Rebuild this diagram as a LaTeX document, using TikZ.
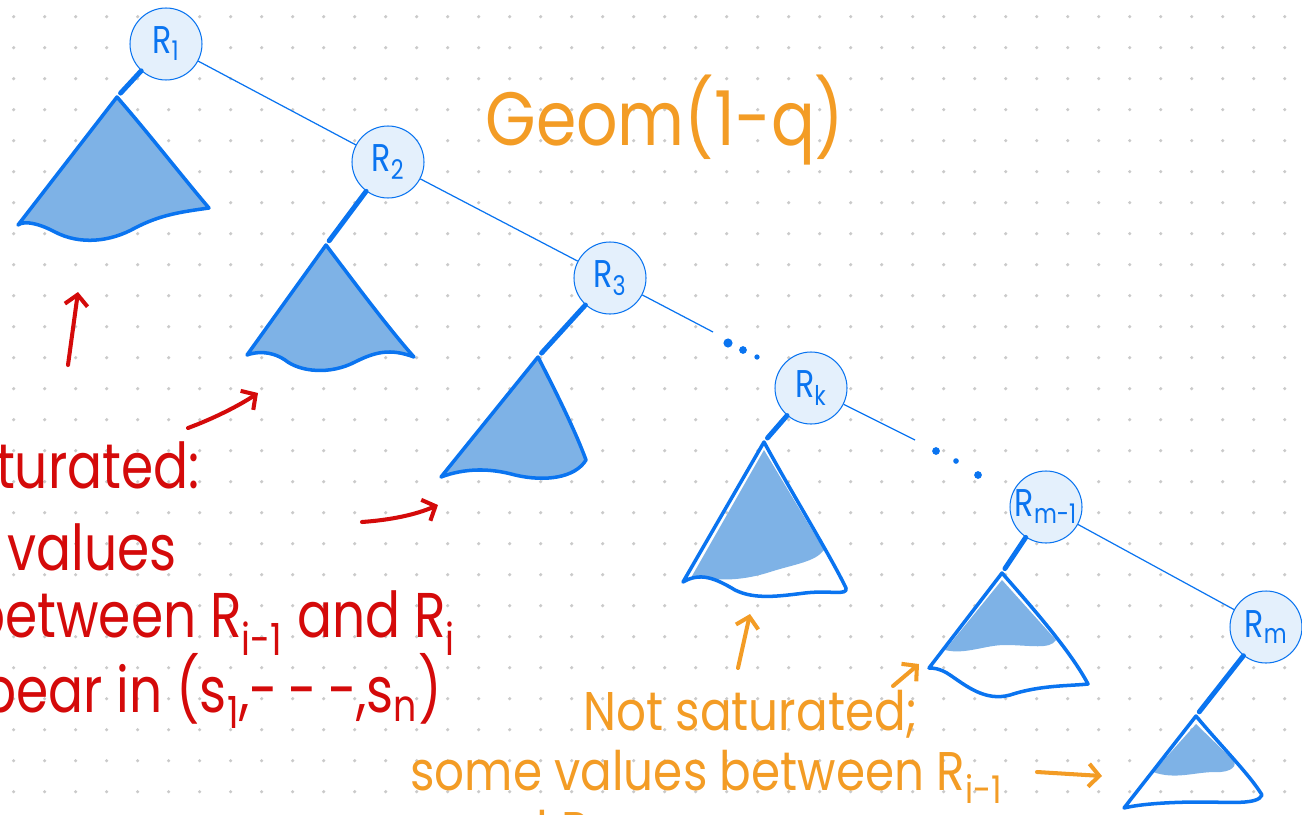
\documentclass[tikz,border=0pt]{standalone}
\usepackage{fontspec}
\setmainfont{Poppins}
\newfontfamily\handfont[FakeStretch=0.82]{Poppins}
\newfontfamily\widehand[FakeStretch=0.86]{Poppins}
\usetikzlibrary{arrows.meta}
\definecolor{penblue}{HTML}{0A74F0}
\definecolor{nodefill}{HTML}{E4F0FC}
\definecolor{treefill}{HTML}{7EB2E6}
\definecolor{penred}{HTML}{D40A0A}
\definecolor{penorange}{HTML}{F39C25}
\definecolor{griddot}{HTML}{CACACA}

\begin{document}
\begin{tikzpicture}[x=0.02cm, y=-0.02cm,
    rnode/.style={draw=penblue, fill=nodefill, circle, line width=0.6pt,
      minimum size=1.44cm, inner sep=0pt, text=penblue,
      font=\handfont\fontsize{22}{24}\selectfont},
    spine/.style={draw=penblue, line width=0.7pt},
    stem/.style={draw=penblue, line width=2.8pt, line cap=round, shorten >=3pt},
    subtree/.style={draw=penblue, line width=2pt, line join=round},
    redpen/.style={draw=penred, line width=2.3pt, line cap=round,
      -{Straight Barb[length=6pt, width=13pt, line width=2.3pt]}},
    orangepen/.style={draw=penorange, line width=2.3pt, line cap=round,
      -{Straight Barb[length=6pt, width=13pt, line width=2.3pt]}},
    redtext/.style={text=penred, anchor=base east, inner sep=0pt,
      font=\handfont\fontsize{36}{40}\selectfont},
    orangetext/.style={text=penorange, anchor=base west, inner sep=0pt,
      font=\widehand\fontsize{31}{36}\selectfont}]
  \useasboundingbox (0,0) rectangle (1302,815);
  \clip (0,0) rectangle (1302,815);
  % Dotted paper
  \foreach \i in {0,...,41}
    \foreach \j in {0,...,25}
      \fill[griddot] (13.7+31*\i, 16.7+31*\j) circle (1pt);
  % Roots along the right spine
  \node[rnode] (r1) at (166,44) {R\textsubscript{1}};
  \node[rnode] (r2) at (388,162) {R\textsubscript{2}};
  \node[rnode] (r3) at (610,278) {R\textsubscript{3}};
  \node[rnode] (rk) at (811,388) {R\textsubscript{k}};
  \node[rnode] (rm1) at (1046,507) {R\textsubscript{m-1}};
  \node[rnode] (rm) at (1266,627) {R\textsubscript{m}};
  \coordinate (d1) at (713,332);
  \coordinate (d2) at (915,440);
  \draw[spine] (r1) -- (r2);
  \draw[spine] (r2) -- (r3);
  \draw[spine] (r3) -- (d1);
  \draw[spine] (rk) -- (d2);
  \draw[spine] (rm1) -- (rm);
  % Dots
  \fill[penblue] (728,343) circle (2.6pt) (743,350) circle (2.2pt) (757,357) circle (1.5pt);
  \fill[penblue] (936,451) circle (2.2pt) (956,461) circle (1.6pt) (978,475) circle (2.2pt);
  % Left subtrees (apexes)
  \coordinate (t1) at (117,97);
  \coordinate (t2) at (326,245);
  \coordinate (t3) at (538,357);
  \coordinate (t4) at (764,442);
  \coordinate (t5) at (1002,573);
  \coordinate (t6) at (1196,716);
  \draw[stem] (r1) -- (t1);
  \draw[stem] (r2) -- (t2);
  \draw[stem] (r3) -- (t3);
  \draw[stem] (rk) -- (t4);
  \draw[stem] (rm1) -- (t5);
  \draw[stem] (rm) -- (t6);
  % Saturated subtrees
  \draw[subtree, fill=treefill] (t1) .. controls (150,135) and (185,180) .. (209,208)
    .. controls (180,212) and (160,215) .. (135,228)
    .. controls (110,242) and (80,245) .. (55,232)
    .. controls (40,224) and (25,220) .. (18,225) -- cycle;
  \draw[subtree, fill=treefill] (t2) .. controls (360,290) and (390,330) .. (414,357)
    .. controls (390,348) and (375,352) .. (355,362)
    .. controls (330,375) and (300,372) .. (285,360)
    .. controls (270,350) and (255,352) .. (247,355) -- cycle;
  \draw[subtree, fill=treefill] (t3) .. controls (555,390) and (575,430) .. (586,460)
    .. controls (575,478) and (545,482) .. (515,475)
    .. controls (490,468) and (465,468) .. (441,477) -- cycle;
  % Not saturated subtrees
  \fill[treefill] (764,450) -- (692,576) .. controls (720,582) and (745,580) .. (770,572)
    .. controls (795,564) and (815,562) .. (824,550) -- cycle;
  \draw[subtree] (t4) .. controls (790,490) and (830,555) .. (846,588)
    .. controls (848,596) and (830,590) .. (805,593)
    .. controls (780,596) and (755,600) .. (735,590)
    .. controls (715,578) and (700,572) .. (683,582) -- cycle;
  \fill[treefill] (1002,580) -- (945,650) .. controls (965,655) and (985,645) .. (1005,645)
    .. controls (1030,645) and (1050,650) .. (1056,640) -- cycle;
  \draw[subtree] (t5) .. controls (1030,605) and (1070,650) .. (1088,684)
    .. controls (1070,686) and (1040,685) .. (1010,695)
    .. controls (985,702) and (965,685) .. (950,675)
    .. controls (940,668) and (932,668) .. (929,668) -- cycle;
  \fill[treefill] (1196,724) -- (1153,772) .. controls (1175,780) and (1195,772) .. (1215,772)
    .. controls (1232,773) and (1238,765) .. (1233,760) -- cycle;
  \draw[subtree] (t6) .. controls (1220,745) and (1250,775) .. (1262,795)
    .. controls (1258,805) and (1230,802) .. (1200,802)
    .. controls (1170,802) and (1140,804) .. (1124,808) -- cycle;
  % Geometric law
  \node[text=penorange, anchor=base, inner sep=0pt,
        font=\widehand\fontsize{43}{48}\selectfont] (geom) at (665,145) {Geom(1-q)};
  % Red notes
  \draw[redpen] (68,365) -- (78,292);
  \draw[redpen] (188,428) .. controls (215,418) and (240,405) .. (258,393);
  \draw[redpen] (362,522) .. controls (390,520) and (415,515) .. (438,505);
  \node[redtext] (sat1) at (200,488) {Saturated:};
  \node[redtext] (sat2) at (177,570) {all values};
  \node[redtext] (sat3) at (456,637) {between R\textsubscript{i-1} and R\textsubscript{i}};
  \node[redtext] (sat4) at (442,712) {appear in (s\textsubscript{1},-\,-\,-,s\textsubscript{n})};
  % Orange notes
  \draw[orangepen] (738,668) -- (750,614);
  \draw[orangepen] (893,686) -- (919,664);
  \draw[orangepen] (1037,772) -- (1102,776);
  \node[orangetext] (nsat1) at (583,730) {Not saturated;};
  \node[orangetext] (nsat2) at (410,790) {some values between R\textsubscript{i-1}};
  \node[orangetext] (nsat3) at (455,850) {and R\textsubscript{i}};
\end{tikzpicture}
\end{document}
